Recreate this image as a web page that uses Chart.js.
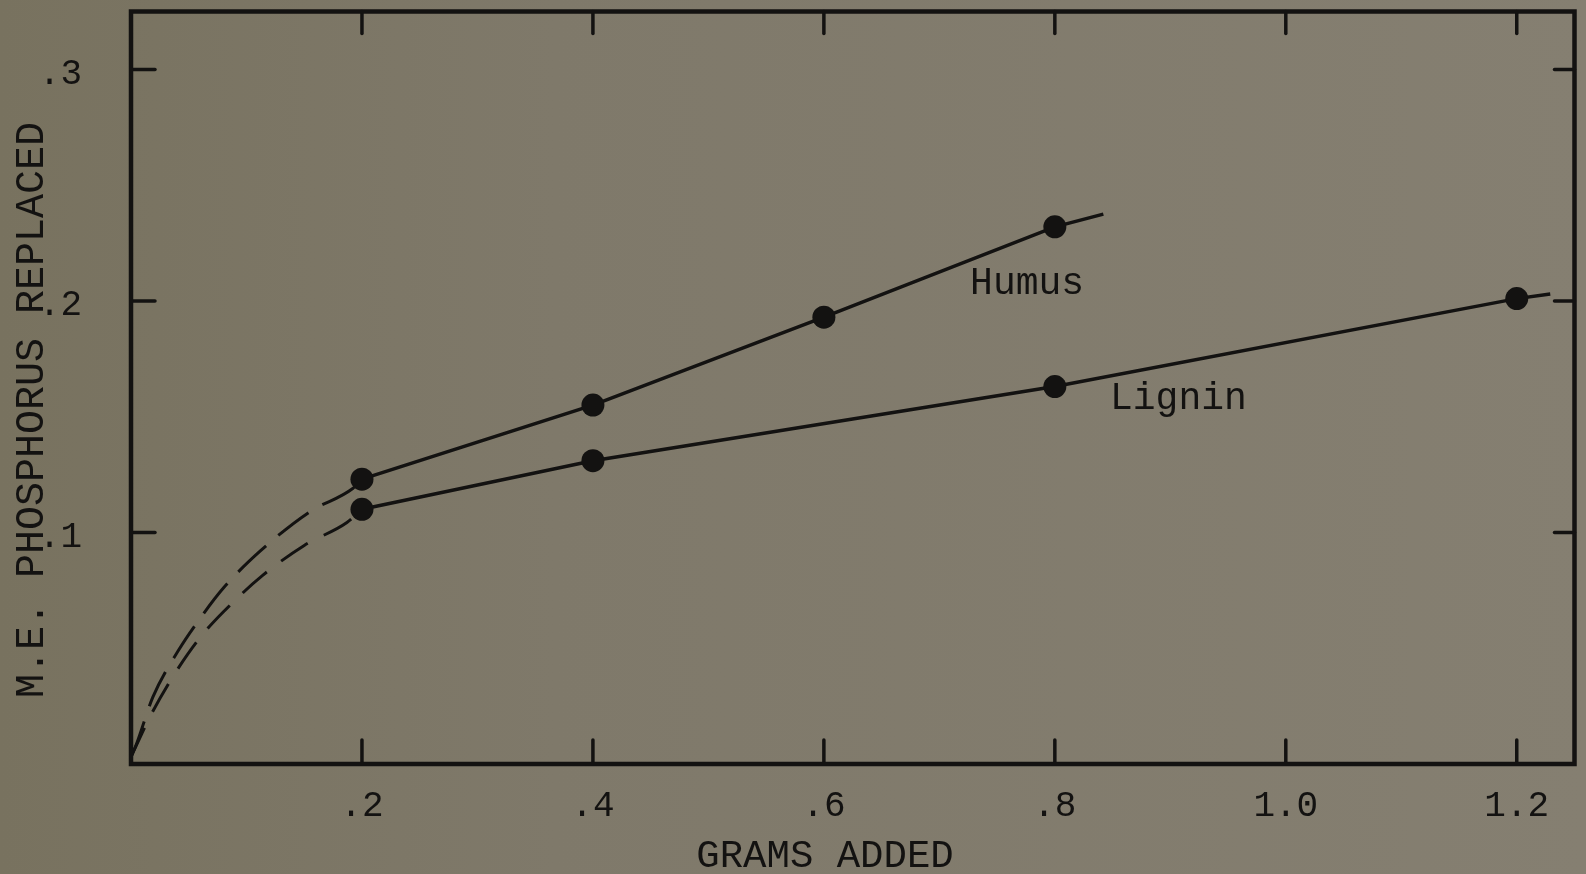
<!DOCTYPE html>
<html>
<head>
<meta charset="utf-8">
<script src="https://cdn.jsdelivr.net/npm/chart.js@4.4.1/dist/chart.umd.min.js"></script>
<style>
  html, body { margin: 0; padding: 0; width: 1586px; height: 874px; overflow: hidden; }
  body { background: linear-gradient(90deg, #78725f 0%, #7f796a 35%, #857f71 100%); }
  #wrap { position: relative; width: 1586px; height: 874px; }
</style>
</head>
<body>
<div id="wrap"><canvas id="c" width="1586" height="874"></canvas></div>
<script>
// Tick positions on both axes
const xTickValues = [0.2, 0.4, 0.6, 0.8, 1.0, 1.2];
const yTickValues = [0.1, 0.2, 0.3];

// Measured points: grams added vs. m.e. phosphorus replaced
const humusGrams = [0.2, 0.4, 0.6, 0.8];
const humusReplaced = [0.123, 0.155, 0.193, 0.232];
const ligninGrams = [0.2, 0.4, 0.8, 1.2];
const ligninReplaced = [0.110, 0.131, 0.163, 0.201];

// Where each fitted line is carried past its last point
const humusLineEnd = { x: 0.842, y: 0.2375 };
const ligninLineEnd = { x: 1.229, y: 0.203 };

// Extrapolated (dashed) curves back to the origin
const humusCurveGrams = [0, 0.005, 0.019, 0.041, 0.060, 0.080, 0.112, 0.155, 0.192, 0.2];
const humusCurveReplaced = [0.003, 0.009, 0.029, 0.049, 0.063, 0.076, 0.092, 0.109, 0.119, 0.123];
const ligninCurveGrams = [0, 0.016, 0.036, 0.060, 0.092, 0.114, 0.150, 0.187, 0.2];
const ligninCurveReplaced = [0.003, 0.020, 0.0375, 0.0547, 0.0716, 0.0815, 0.0944, 0.1043, 0.110];

// Axis titles and curve labels
const xTitle = 'GRAMS ADDED';
const yTitle = 'M.E. PHOSPHORUS REPLACED';
const curveLabels = [
  { text: 'Humus', x: 0.776, y: 0.203 },
  { text: 'Lignin', x: 0.907, y: 0.1535 }
];

const INK = '#131211';
const FONT = "'Liberation Mono', 'DejaVu Sans Mono', monospace";

const pts = (xs, ys) => xs.map((x, i) => ({ x, y: ys[i] }));
const fmt = v => {
  const s = Number(v).toFixed(1);
  return s.startsWith('0') ? s.slice(1) : s;
};

// Frame, inward ticks on all four sides, titles and labels
const paperPlugin = {
  id: 'paper',
  afterDatasetsDraw(chart) {
    const { ctx, chartArea: a, scales } = chart;
    const xs = scales.x, ys = scales.y;
    ctx.save();
    ctx.strokeStyle = INK;
    ctx.lineCap = 'round';
    ctx.lineWidth = 3.5;
    xs.ticks.forEach(t => {
      const px = xs.getPixelForValue(t.value);
      ctx.beginPath(); ctx.moveTo(px, a.bottom); ctx.lineTo(px, a.bottom - 24); ctx.stroke();
      ctx.beginPath(); ctx.moveTo(px, a.top); ctx.lineTo(px, a.top + 22); ctx.stroke();
    });
    ys.ticks.forEach(t => {
      const py = ys.getPixelForValue(t.value);
      ctx.beginPath(); ctx.moveTo(a.left, py); ctx.lineTo(a.left + 24, py); ctx.stroke();
      ctx.beginPath(); ctx.moveTo(a.right, py); ctx.lineTo(a.right - 20, py); ctx.stroke();
    });
    ctx.lineCap = 'square';
    ctx.lineWidth = 4.5;
    ctx.beginPath();
    ctx.moveTo(a.left, a.top); ctx.lineTo(a.right, a.top);
    ctx.lineTo(a.right, a.bottom); ctx.lineTo(a.left, a.bottom);
    ctx.closePath();
    ctx.stroke();

    ctx.fillStyle = INK;
    ctx.font = `38px ${FONT}`;
    ctx.textAlign = 'center';
    ctx.textBaseline = 'alphabetic';
    curveLabels.forEach(l => {
      ctx.fillText(l.text, xs.getPixelForValue(l.x), ys.getPixelForValue(l.y));
    });

    ctx.font = `39px ${FONT}`;
    ctx.fillText(xTitle, a.left + 694, chart.height - 7);

    ctx.font = `40px ${FONT}`;
    ctx.translate(43, 410);
    ctx.rotate(-Math.PI / 2);
    ctx.fillText(yTitle, 0, 0);
    ctx.restore();
  }
};

new Chart(document.getElementById('c'), {
  type: 'scatter',
  data: {
    datasets: [
      {
        label: 'Humus (extrapolated)',
        data: pts(humusCurveGrams, humusCurveReplaced),
        showLine: true, borderColor: INK, borderWidth: 3,
        borderDash: [38, 16], pointRadius: 0,
        cubicInterpolationMode: 'monotone'
      },
      {
        label: 'Lignin (extrapolated)',
        data: pts(ligninCurveGrams, ligninCurveReplaced),
        showLine: true, borderColor: INK, borderWidth: 3,
        borderDash: [32, 18], pointRadius: 0,
        cubicInterpolationMode: 'monotone'
      },
      {
        label: 'Humus',
        data: [...pts(humusGrams, humusReplaced), humusLineEnd],
        showLine: true, borderColor: INK, borderWidth: 3.5,
        pointRadius: c => (c.dataIndex < humusGrams.length ? 11.5 : 0),
        pointBackgroundColor: INK, pointBorderColor: INK, pointBorderWidth: 0,
        tension: 0
      },
      {
        label: 'Lignin',
        data: [...pts(ligninGrams, ligninReplaced), ligninLineEnd],
        showLine: true, borderColor: INK, borderWidth: 3.5,
        pointRadius: c => (c.dataIndex < ligninGrams.length ? 11.5 : 0),
        pointBackgroundColor: INK, pointBorderColor: INK, pointBorderWidth: 0,
        tension: 0
      }
    ]
  },
  options: {
    responsive: false,
    animation: false,
    events: [],
    layout: { padding: { left: 0, top: 10, right: 9, bottom: 0 } },
    plugins: { legend: { display: false }, tooltip: { enabled: false } },
    scales: {
      x: {
        type: 'linear', min: 0, max: 1.25,
        afterBuildTicks: s => { s.ticks = xTickValues.map(v => ({ value: v })); },
        afterFit: s => { s.height = 110; s.paddingLeft = 0; s.paddingRight = 0; },
        grid: { display: false }, border: { display: false },
        ticks: { padding: 13, color: INK, font: { family: FONT, size: 36 }, callback: fmt, maxRotation: 0, autoSkip: false }
      },
      y: {
        type: 'linear', min: 0, max: 0.325,
        afterBuildTicks: s => { s.ticks = yTickValues.map(v => ({ value: v })); },
        afterFit: s => { s.width = 131; s.paddingTop = 0; s.paddingBottom = 0; },
        grid: { display: false }, border: { display: false },
        ticks: { padding: 41, labelOffset: 5, color: INK, font: { family: FONT, size: 36 }, callback: fmt, autoSkip: false }
      }
    }
  },
  plugins: [paperPlugin]
});
</script>
</body>
</html>
